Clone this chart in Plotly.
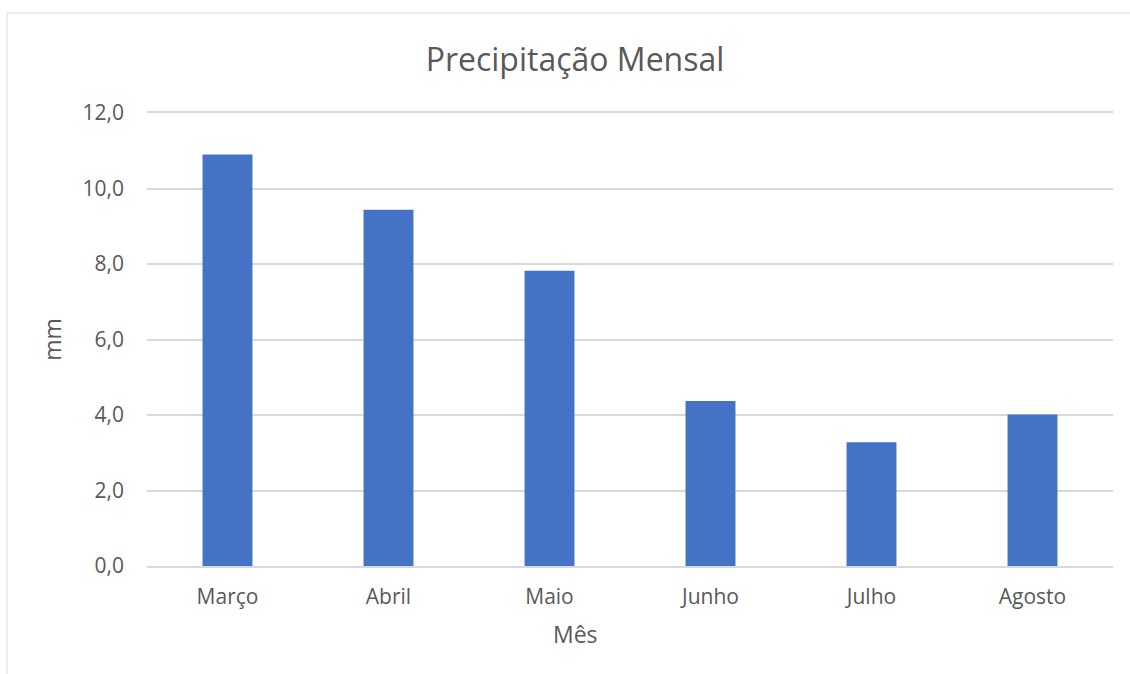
import plotly.graph_objects as go

meses = ["Março", "Abril", "Maio", "Junho", "Julho", "Agosto"]
precipitacao = [10.9, 9.44, 7.82, 4.37, 3.28, 4.01]
y_ticks = [0, 2, 4, 6, 8, 10, 12]

FONT = "Open Sans"
GRAY = "#595959"
GRID = "#D9D9D9"

PW = 966   # plot width px
PH = 453   # plot height px

fig = go.Figure(go.Bar(x=meses, y=precipitacao, marker=dict(color="#4472C4", line=dict(width=0))))

fig.update_layout(
    width=1130, height=674,
    margin=dict(l=147, r=17, t=113, b=108),
    paper_bgcolor="white", plot_bgcolor="white",
    separators=",.",
    bargap=0.69,
    showlegend=False,
    font=dict(family=FONT, color=GRAY, size=21),
    title=dict(text="Precipitação Mensal", xref="paper", x=(575 - 147) / PW, xanchor="center",
               y=1 - 60/674, yanchor="middle",
               font=dict(family=FONT, size=32, color=GRAY)),
    xaxis=dict(showgrid=False, showline=True, mirror=True, linecolor=GRID, linewidth=1.5,
               ticks="", ticklabelstandoff=11, tickfont=dict(size=21, color=GRAY)),
    yaxis=dict(title=dict(text="mm", font=dict(size=23, color=GRAY), standoff=14),
               range=[0, 12], tickvals=y_ticks, tickformat=".1f",
               showgrid=True, gridcolor=GRID, gridwidth=1.5, zeroline=False,
               showline=False, ticks="", ticklabelstandoff=22, tickfont=dict(size=21, color=GRAY)),
    annotations=[dict(text="Mês", xref="paper", yref="paper", x=(575 - 147) / PW, y=-(634 - 566) / PH,
                      xanchor="center", yanchor="middle", showarrow=False,
                      font=dict(family=FONT, size=23, color=GRAY))],
    shapes=[dict(type="rect", xref="paper", yref="paper", x0=-140/PW, x1=1 + 40/PW,
                 y0=-140/PH, y1=1 + 100/PH, line=dict(color=GRID, width=1), layer="below")],
)

fig.write_html("out.html")
